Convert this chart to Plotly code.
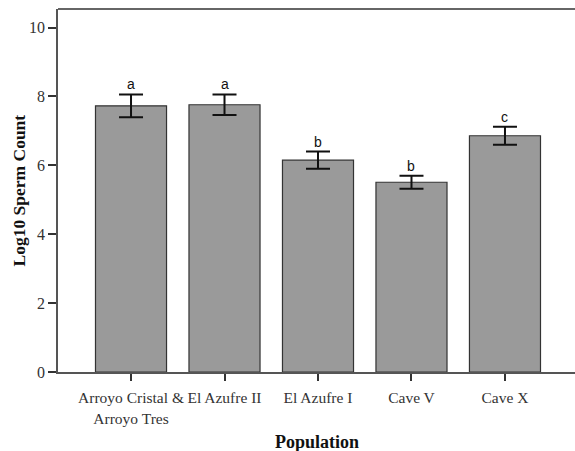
import plotly.graph_objects as go

categories = ["Arroyo Cristal &<br>Arroyo Tres", "El Azufre II", "El Azufre I", "Cave V", "Cave X"]
means = [7.73, 7.76, 6.15, 5.51, 6.86]
errors = [0.33, 0.30, 0.25, 0.19, 0.26]
letters = ["a", "a", "b", "b", "c"]
y_ticks = [0, 2, 4, 6, 8, 10]

serif = "Liberation Serif, Times New Roman"

fig = go.Figure()
fig.add_trace(go.Bar(
    x=list(range(len(categories))),
    y=means,
    width=0.76,
    marker=dict(color="#9a9a9a", line=dict(color="#333333", width=1.2)),
    error_y=dict(type="data", array=errors, visible=True, color="#111111",
                 thickness=2, width=12),
))

for i, (m, e, l) in enumerate(zip(means, errors, letters)):
    fig.add_annotation(x=i, y=m + e, text=l, showarrow=False, yanchor="bottom",
                       yshift=0, font=dict(family="Liberation Sans, Arial", size=14, color="#111111"))

# axis titles
fig.add_annotation(xref="paper", yref="paper", x=0.5, y=0, yshift=-70, yanchor="middle",
                   text="<b>Population</b>", showarrow=False,
                   font=dict(family=serif, size=18, color="#111111"))
fig.add_annotation(xref="paper", yref="paper", x=0, xshift=-40, y=0.5, xanchor="center",
                   textangle=-90, text="<b>Log10 Sperm Count</b>", showarrow=False,
                   font=dict(family=serif, size=17.5, color="#111111"))
# top frame line
fig.add_shape(type="line", xref="paper", yref="paper", x0=0, x1=1, y0=1, y1=1,
              line=dict(color="#666666", width=2))

fig.update_layout(
    width=575, height=451,
    margin=dict(l=58, r=0, t=8.5, b=79),
    plot_bgcolor="white", paper_bgcolor="white",
    showlegend=False,
)
fig.update_xaxes(
    automargin=False,
    range=[-0.781, 4.749],
    tickmode="array", tickvals=list(range(len(categories))), ticktext=categories,
    ticks="outside", ticklen=7, tickcolor="#333333", tickwidth=1.5,
    ticklabelstandoff=4,
    showline=True, linecolor="#555555", linewidth=1.5,
    showgrid=False, zeroline=False,
    tickfont=dict(family=serif, size=15.5, color="#333333"),
)
fig.update_yaxes(
    automargin=False,
    range=[0, 10.54],
    tickmode="array", tickvals=y_ticks,
    ticks="outside", ticklen=8, tickcolor="#333333", tickwidth=1.5,
    showline=True, linecolor="#555555", linewidth=1.5,
    showgrid=False, zeroline=False,
    tickfont=dict(family=serif, size=16, color="#333333"),
)

fig.write_html("out.html", config={"displayModeBar": False},
               post_script="document.body.style.margin='0';document.body.style.overflow='hidden';")
